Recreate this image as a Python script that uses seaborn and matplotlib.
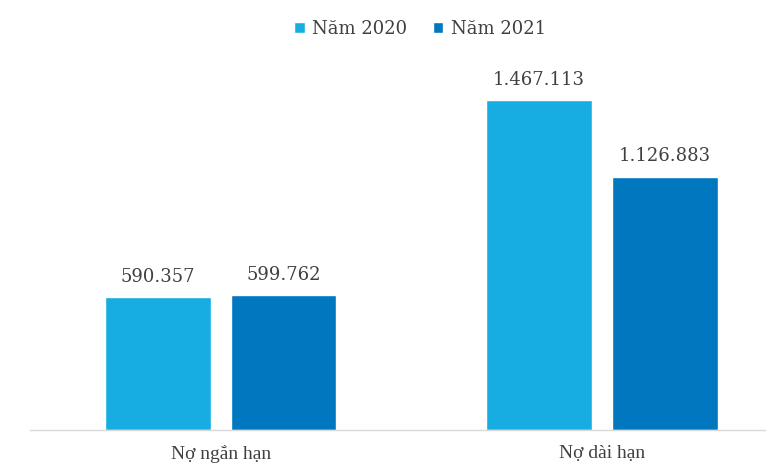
import matplotlib
matplotlib.use("Agg")
import matplotlib.pyplot as plt
import pandas as pd
import seaborn as sns

categories = ["Nợ ngắn hạn", "Nợ dài hạn"]
years      = ["Năm 2020", "Năm 2021"]
values_2020 = [590357, 1467113]
values_2021 = [599762, 1126883]

df = pd.DataFrame({
    "category": categories * 2,
    "year":     [years[0]] * 2 + [years[1]] * 2,
    "value":    values_2020 + values_2021,
})

colors = ["#17ADE3", "#0077BF"]
text_color = "#404040"

sns.set_theme(style="white")
plt.rcParams["font.family"] = ["DejaVu Serif"]

fig = plt.figure(figsize=(7.66, 4.65), dpi=100)
ax = fig.add_axes([0.039, 0.0753, 0.961, 0.774])

sns.barplot(data=df, x="category", y="value", hue="year", order=categories,
            hue_order=years, palette=colors, width=0.66, gap=0.16,
            saturation=1, ax=ax, legend=True)

for container in ax.containers:
    labels = [f"{v:,.0f}".replace(",", ".") for v in container.datavalues]
    ax.bar_label(container, labels=labels, padding=8, fontsize=13, color=text_color)

ax.set_xlim(-0.5, 1.43)
ax.set_ylim(0, 1.6e6)
ax.set_xlabel("")
ax.set_ylabel("")
ax.set_yticks([])
ax.tick_params(axis="x", length=0, pad=11)
for lbl in ax.get_xticklabels():
    lbl.set_fontfamily("Liberation Serif")
    lbl.set_fontsize(14)
    lbl.set_color(text_color)

for side in ["top", "right", "left"]:
    ax.spines[side].set_visible(False)
ax.spines["bottom"].set_color("#d9d9d9")
ax.spines["bottom"].set_linewidth(1)

handles, lbls = ax.get_legend_handles_labels()
ax.legend(handles, lbls, loc="center", bbox_to_anchor=(0.53, 1.115), ncol=2,
          frameon=False, fontsize=13, handlelength=0.6, handleheight=0.6,
          handletextpad=0.4, columnspacing=1.4, labelcolor=text_color)

plt.savefig("out.png", dpi=100)
